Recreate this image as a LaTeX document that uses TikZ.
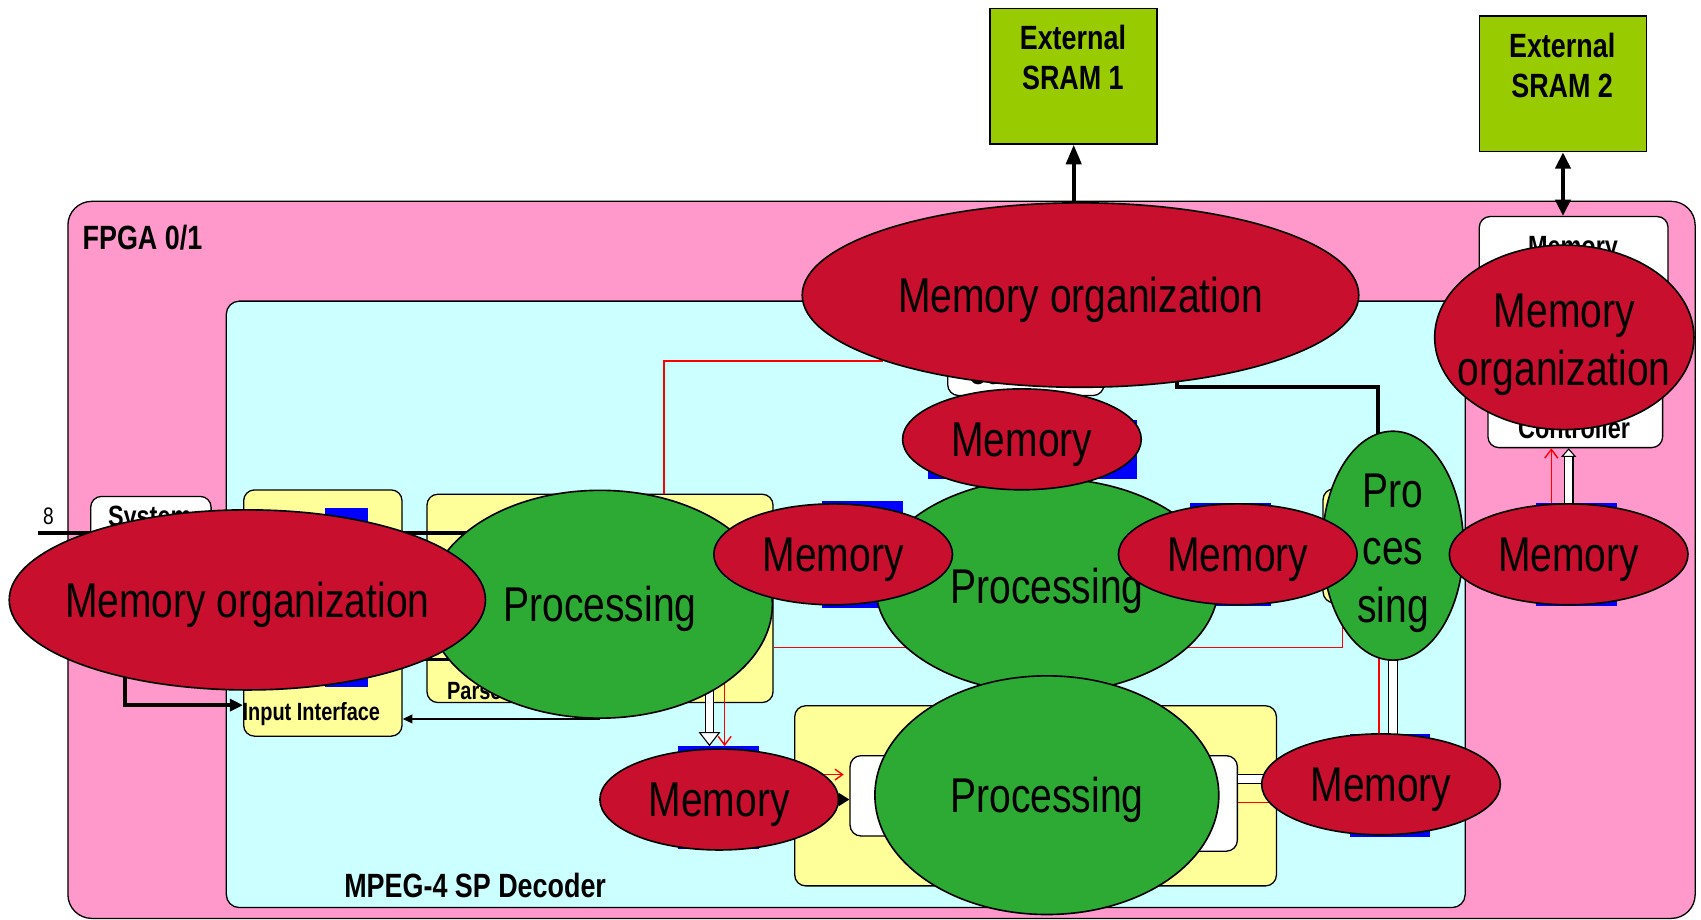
\documentclass[tikz,border=0pt]{standalone}
\usepackage{fontspec}
\setmainfont{Liberation Sans}[FakeStretch=0.8]
\usetikzlibrary{shapes.geometric, arrows.meta}

\definecolor{memred}{RGB}{200,16,46}
\definecolor{procgreen}{RGB}{44,170,52}
\definecolor{fpgapink}{RGB}{255,153,204}
\definecolor{decodercyan}{RGB}{204,255,255}
\definecolor{blockyellow}{RGB}{255,255,153}
\definecolor{sramgreen}{RGB}{153,204,0}

\newcommand{\ellipsefont}{\fontsize{45}{53}\selectfont}
\newcommand{\titlefont}{\bfseries\fontsize{31}{37}\selectfont}
\newcommand{\ctrlfont}{\bfseries\fontsize{27}{32}\selectfont}
\newcommand{\tagfont}{\bfseries\fontsize{23}{27}\selectfont}

\tikzstyle{area} = [rectangle, draw, line width=1.2pt, anchor=north west, inner sep=0pt]
\tikzstyle{block} = [area, fill=blockyellow, rounded corners=10pt]
\tikzstyle{plain} = [area, fill=white, rounded corners=10pt]
\tikzstyle{sram} = [area, fill=sramgreen, line width=1.5pt]
\tikzstyle{port} = [rectangle, fill=blue, inner sep=0pt]
\tikzstyle{caption} = [inner sep=0pt]
\tikzstyle{memory} = [ellipse, draw, line width=1.5pt, fill=memred, inner sep=0pt,
                 minimum width=220pt, minimum height=93pt, font=\ellipsefont, text depth=0pt]
\tikzstyle{processing} = [ellipse, draw, line width=1.5pt, fill=procgreen, inner sep=0pt,
                 font=\ellipsefont, text depth=0pt]
\tikzstyle{memorg} = [ellipse, draw, line width=1.5pt, fill=memred, inner sep=0pt,
                 font=\ellipsefont, text depth=0pt]
\tikzstyle{bus} = [line width=3.5pt]
\tikzstyle{wire} = [line width=1.5pt]
\tikzstyle{ctrl} = [draw=red, line width=1.3pt]
\tikzstyle{pipe} = [draw=black, line width=1pt, double=white, double distance=7pt]

\pgfdeclarelayer{boxes}
\pgfdeclarelayer{wires}
\pgfsetlayers{boxes,wires,main}

\begin{document}
\begin{tikzpicture}[x=1pt, y=-1pt]

\useasboundingbox (0,0) rectangle (1568,848);

\begin{pgfonlayer}{boxes}
\node [area, fill=fpgapink, rounded corners=22pt, minimum width=1500pt, minimum height=661pt] at (62,185) (fpga) {};
\node [area, fill=decodercyan, rounded corners=12pt, minimum width=1142pt, minimum height=559pt] at (208,277) (decoder) {};
\node [caption, anchor=west, font=\titlefont] at (76,219) (fpgatxt) {FPGA 0/1};
\node [caption, font=\titlefont] at (438,816) (dectxt) {MPEG-4 SP Decoder};

\node [sram, minimum width=154pt, minimum height=125pt] at (912,7) (sram1) {};
\node [sram, minimum width=154pt, minimum height=125pt] at (1363,14) (sram2) {};
\node [caption, font=\titlefont, align=center] at (989,53) (sram1txt) {External\\SRAM 1};
\node [caption, font=\titlefont, align=center] at (1440,60) (sram2txt) {External\\SRAM 2};

% memory controllers
\node [plain, minimum width=174pt, minimum height=131pt] at (1363,199) (ctrlmem) {};
\node [plain, minimum width=161pt, minimum height=122pt] at (1371,290) (ctrlbot) {};
\node [caption, font=\ctrlfont] at (1450,230) (ctrlmemtxt) {Memory};
\node [caption, font=\ctrlfont] at (1451,395) (ctrlbottxt) {Controller};
\node [plain, minimum width=144pt, minimum height=34pt] at (873,330) (ctrlmid) {};
\node [caption, font=\ctrlfont] at (945,345) (ctrlmidtxt) {Controller};

% decoder blocks
\node [plain, minimum width=111pt, minimum height=143pt] at (83,457) (sysif) {};
\node [caption, font=\ctrlfont] at (138,479) (sysiftxt) {System};
\node [block, minimum width=146pt, minimum height=227pt] at (224,451) (inif) {};
\node [caption, font=\tagfont] at (287,658) (iniftxt) {Input Interface};
\node [block, minimum width=319pt, minimum height=192pt] at (393,455) (parser) {};
\node [caption, anchor=base west, font=\tagfont] at (412,645) (parsertxt) {Parser};
\node [block, minimum width=444pt, minimum height=166pt] at (732,650) (recon) {};
\node [plain, minimum width=97pt, minimum height=74pt] at (783,696) (wleft) {};
\node [plain, minimum width=90pt, minimum height=88pt] at (1050,696) (wright) {};
\node [block, minimum width=121pt, minimum height=105pt] at (1219,450) (procbox) {};
\end{pgfonlayer}

% buffer ports
\foreach \x/\y/\w/\h/\n in {319.5/550.5/39pt/165pt/pin, 795/511/74pt/98pt/p1,
    951.5/414.5/193pt/55pt/p2, 1134.5/511.5/75pt/95pt/p3, 662.5/735.5/75pt/95pt/p4,
    1281/724.5/74pt/95pt/p5, 1453.5/511.5/75pt/95pt/p6}
	\node [port, minimum width=\w, minimum height=\h] at (\x,\y) (\n) {};

\node [processing, minimum width=316pt, minimum height=198pt] at (965,540) (proc2) {Processing};
\node [processing, minimum width=317pt, minimum height=220pt] at (965,733) (proc3) {Processing};
\node [processing, minimum width=318pt, minimum height=210pt] at (553,557) (proc1) {Processing};
\node [processing, minimum width=130pt, minimum height=211pt,
       label={[font=\ellipsefont, align=center, yshift=-7pt]center:Pro\\ces\\sing}] at (1284,503) (procsing) {};

\foreach \x/\y/\n in {768/511/mem1, 942/405/mem2, 1141/511/mem3, 663/737/mem4, 1273/723/mem5, 1446/511/mem6}
	\node [memory] at (\x,\y) (\n) {Memory};

\node [memorg, minimum width=439pt, minimum height=166pt,
       label={[font=\ellipsefont, text depth=0pt]center:Memory organization}] at (228,553) (orgleft) {};
\node [memorg, minimum width=513pt, minimum height=170pt] at (996,272) (orgtop) {Memory organization};
\node [memorg, minimum width=239pt, minimum height=170pt,
       label={[font=\ellipsefont, align=center, yshift=-7pt]center:Memory\\organization}] at (1442,311) (orgright) {};

\begin{pgfonlayer}{wires}
\coordinate (bitin) at (35,491);
\coordinate (sysout) at (115,590);
\coordinate (pdrop) at (654,625);
\coordinate (rdrop) at (668,625);
\coordinate (rtap) at (1271,520);
\coordinate (rup) at (1430,511);
\coordinate (orgtap) at (1085,340);
\coordinate (proctap) at (1270,420);

% stream in
\draw [bus] (bitin) -- (sysif.west |- bitin)
	node [pos=0.2, above=2pt, font=\fontsize{22}{26}\selectfont] (buswidth) {8};
\draw [bus, -{Triangle[length=12pt,width=11pt]}] (sysout) |- (inif.west |- 0,650);
\draw [bus] (inif.east |- bitin) -- ++(70,0);
\draw [bus] (inif.east |- 0,608) -- ++(70,0);
\draw [wire, -{Triangle[length=9pt,width=8pt]}] (proc1.south) -- (inif.east |- proc1.south);

% external memories
\draw [bus, -{Triangle[length=18pt,width=14pt]}] (sram1.south |- fpga.north) -- (sram1.south);
\draw [bus, {Triangle[length=15pt,width=14pt]}-{Triangle[length=15pt,width=14pt]}] (sram2.south) -- (sram2.south |- ctrlmem.north);
\draw [bus] (orgtap) |- (proctap |- 0,357) -- (proctap);

% control and data paths
\draw [ctrl] (parser.north -| 612,0) |- (orgtop.south west);
\draw [ctrl] (parser.east |- 0,597) -| (procsing.south west);
\draw [pipe, -{Triangle[fill=white,length=13pt,width=20pt]}] (pdrop) -- (pdrop |- p4.north);
\draw [ctrl, -{Straight Barb[length=8pt,width=12pt]}] (rdrop) -- (rdrop |- p4.north);
\draw [line width=2pt, -{Triangle[length=10pt,width=12pt]}] (mem4.east) -- (wleft.west |- mem4.east);
\draw [ctrl, -{Straight Barb[length=7pt,width=10pt]}] ([xshift=-20pt,yshift=23pt]mem4.east) -- ++(24,0);
\draw [pipe] (wright.east |- 0,718) -- (mem5.center |- 0,718);
\draw [ctrl] (wright.east |- 0,740) -- (mem5.center |- 0,740);
\draw [pipe] (procsing.center) -- (procsing.center |- mem5.center);
\draw [ctrl] (rtap) -- (rtap |- mem5.center);
\draw [pipe, -{Triangle[fill=white,length=8pt,width=14pt]}] (mem6.center) -- (mem6.center |- ctrlbot.south);
\draw [ctrl, -{Straight Barb[length=8pt,width=12pt]}] (rup) -- (rup |- ctrlbot.south);
\end{pgfonlayer}

\end{tikzpicture}
\end{document}
